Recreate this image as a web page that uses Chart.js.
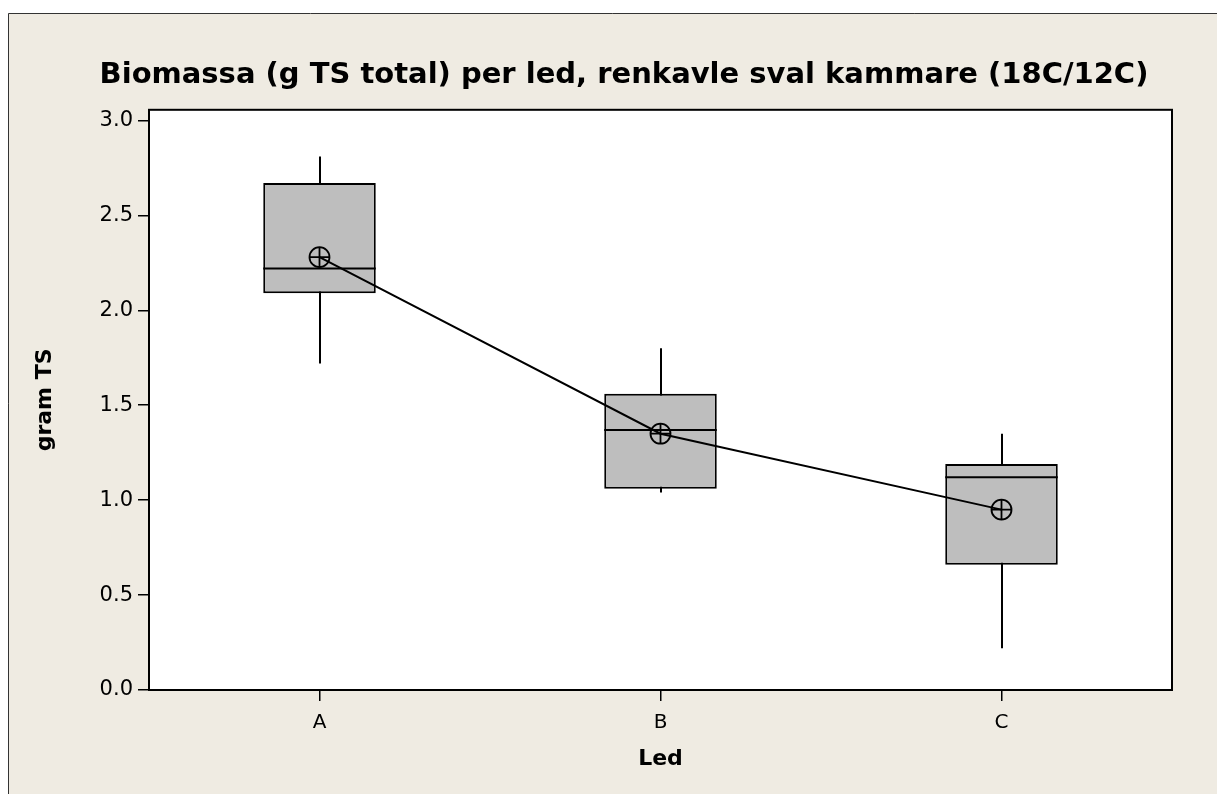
<!DOCTYPE html>
<html>
<head>
<meta charset="utf-8">
<script src="https://cdn.jsdelivr.net/npm/chart.js@4/dist/chart.umd.min.js"></script>
<style>
  html, body { margin: 0; padding: 0; background: #fff; }
  #wrap { width: 1217px; height: 794px; position: relative; }
</style>
</head>
<body>
<div id="wrap"><canvas id="chart" width="1217" height="794"></canvas></div>
<script>
// Biomassa per led - box plot values
const categories = ['A', 'B', 'C'];
const whiskerLow = [1.72, 1.04, 0.22];
const q1 = [2.09, 1.06, 0.66];
const median = [2.22, 1.37, 1.12];
const q3 = [2.67, 1.56, 1.19];
const whiskerHigh = [2.81, 1.80, 1.35];
const means = [2.28, 1.35, 0.95];
const yTicks = [0, 0.5, 1.0, 1.5, 2.0, 2.5, 3.0];

const FONT = "'DejaVu Sans', Tahoma, sans-serif";

// background, plot frame, whiskers, medians and mean symbols
const boxPlotPlugin = {
  id: 'boxPlot',
  beforeDraw(chart) {
    const { ctx, chartArea: a, width, height } = chart;
    ctx.save();
    ctx.fillStyle = '#fff';
    ctx.fillRect(0, 0, width, height);
    ctx.fillStyle = '#EFEBE2';
    ctx.fillRect(8, 13, width, height);
    ctx.strokeStyle = '#333';
    ctx.lineWidth = 1;
    ctx.beginPath();
    ctx.moveTo(8.5, height);
    ctx.lineTo(8.5, 13.5);
    ctx.lineTo(width, 13.5);
    ctx.stroke();
    ctx.fillStyle = '#fff';
    ctx.fillRect(a.left, a.top, a.right - a.left, a.bottom - a.top);
    ctx.restore();
  },
  beforeDatasetsDraw(chart) {
    const { ctx, scales: { x, y } } = chart;
    ctx.save();
    ctx.strokeStyle = '#000';
    ctx.lineWidth = 2;
    categories.forEach((c, i) => {
      const px = Math.round(x.getPixelForValue(i));
      ctx.beginPath();
      ctx.moveTo(px, y.getPixelForValue(whiskerLow[i]));
      ctx.lineTo(px, y.getPixelForValue(whiskerHigh[i]));
      ctx.stroke();
    });
    ctx.restore();
  },
  afterDatasetsDraw(chart) {
    const { ctx, scales: { x, y } } = chart;
    const bars = chart.getDatasetMeta(0).data;
    ctx.save();
    ctx.strokeStyle = '#000';
    ctx.lineWidth = 2;
    categories.forEach((c, i) => {
      const bar = bars[i];
      const py = y.getPixelForValue(median[i]);
      ctx.beginPath();
      ctx.moveTo(bar.x - bar.width / 2, py);
      ctx.lineTo(bar.x + bar.width / 2, py);
      ctx.stroke();
    });
    // mean symbols: circle with a plus
    ctx.lineWidth = 1.8;
    categories.forEach((c, i) => {
      const px = x.getPixelForValue(i);
      const py = y.getPixelForValue(means[i]);
      const r = 10;
      ctx.beginPath();
      ctx.arc(px, py, r, 0, Math.PI * 2);
      ctx.moveTo(px - r, py);
      ctx.lineTo(px + r, py);
      ctx.moveTo(px, py - r);
      ctx.lineTo(px, py + r);
      ctx.stroke();
    });
    ctx.restore();
  },
  afterDraw(chart) {
    const { ctx, chartArea: a } = chart;
    ctx.save();
    ctx.strokeStyle = '#000';
    ctx.lineWidth = 2;
    ctx.strokeRect(a.left, a.top, a.right - a.left, a.bottom - a.top);
    ctx.restore();
  }
};

new Chart(document.getElementById('chart'), {
  data: {
    labels: categories,
    datasets: [
      {
        type: 'bar',
        data: q1.map((v, i) => [v, q3[i]]),
        backgroundColor: '#BEBEBE',
        borderColor: '#000',
        borderWidth: 2,
        borderSkipped: false,
        barPercentage: 0.33,
        categoryPercentage: 1.0,
        order: 2
      },
      {
        type: 'line',
        data: means,
        borderColor: '#000',
        borderWidth: 2,
        pointRadius: 0,
        tension: 0,
        order: 1
      }
    ]
  },
  options: {
    responsive: false,
    animation: false,
    layout: { padding: { left: 76, right: 45, top: 0, bottom: 0 } },
    plugins: {
      legend: { display: false },
      tooltip: { enabled: false },
      title: {
        display: true,
        text: 'Biomassa (g TS total) per led, renkavle sval kammare (18C/12C)',
        color: '#000',
        font: { family: FONT, size: 29, weight: 'bold' },
        padding: { top: 58, bottom: 17 }
      }
    },
    scales: {
      x: {
        type: 'category',
        offset: true,
        afterFit(scale) { scale.height = 104; },
        grid: { display: true, drawOnChartArea: false, offset: false, tickLength: 11, color: '#000', lineWidth: 1.5 },
        border: { display: true, color: '#000', width: 2 },
        ticks: { color: '#000', padding: 10, font: { family: FONT, size: 20 } },
        title: {
          display: true,
          text: 'Led',
          color: '#000',
          font: { family: FONT, size: 22, weight: 'bold' },
          padding: { top: 0, bottom: 22 }
        }
      },
      y: {
        min: 0,
        max: 3.056,
        afterFit(scale) { scale.width = 73; },
        grid: { display: true, drawOnChartArea: false, tickLength: 11, color: '#000', lineWidth: 1.5 },
        border: { display: true, color: '#000', width: 2 },
        afterBuildTicks(scale) { scale.ticks = yTicks.map(v => ({ value: v })); },
        ticks: {
          color: '#000',
          padding: 5,
          font: { family: FONT, size: 21 },
          callback: v => Number(v).toFixed(1)
        },
        title: {
          display: true,
          text: 'gram TS',
          color: '#000',
          font: { family: FONT, size: 22, weight: 'bold' },
          padding: { top: -44, bottom: 0 }
        }
      }
    }
  },
  plugins: [boxPlotPlugin]
});
</script>
</body>
</html>
